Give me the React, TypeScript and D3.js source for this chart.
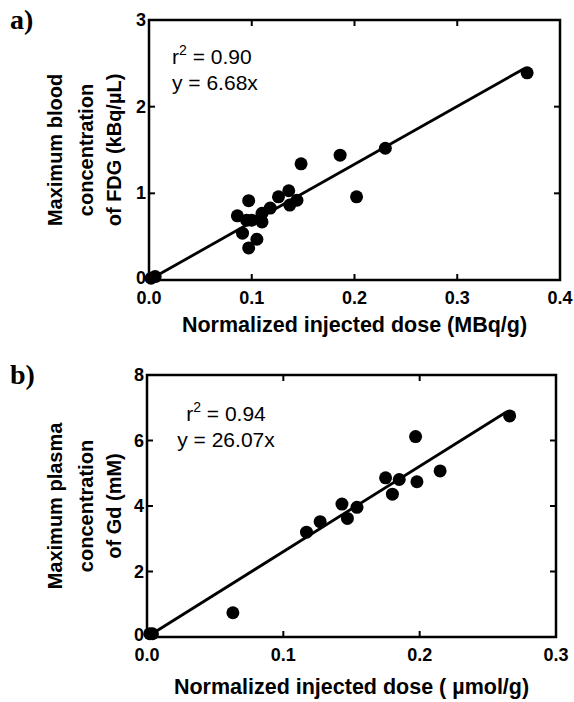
// App.tsx
import React, { useEffect, useRef } from 'react';
import * as d3 from 'd3';

// panel a: FDG
const fdgDose = [0.002, 0.006, 0.086, 0.095, 0.1, 0.097, 0.091, 0.097, 0.105, 0.11, 0.11, 0.118, 0.126, 0.136, 0.137, 0.144, 0.148, 0.186, 0.202, 0.23, 0.368];
const fdgConc = [0.02, 0.04, 0.74, 0.69, 0.69, 0.915, 0.54, 0.37, 0.47, 0.67, 0.77, 0.83, 0.96, 1.03, 0.865, 0.92, 1.34, 1.44, 0.96, 1.52, 2.39];
const fdgXTicks = [0, 0.1, 0.2, 0.3, 0.4];
const fdgYTicks = [0, 1, 2, 3];

// panel b: Gd
const gdDose = [0.002, 0.004, 0.063, 0.117, 0.127, 0.143, 0.147, 0.154, 0.175, 0.18, 0.185, 0.197, 0.198, 0.215, 0.266];
const gdConc = [0.1, 0.1, 0.74, 3.2, 3.52, 4.06, 3.62, 3.96, 4.86, 4.36, 4.81, 6.12, 4.74, 5.07, 6.75];
const gdXTicks = [0, 0.1, 0.2, 0.3];
const gdYTicks = [0, 2, 4, 6, 8];

const SANS = '"Liberation Sans", Arial, Helvetica, sans-serif';

const drawPanel = (svg, opts) => {
  const { x0, x1, y0, y1, xMax, yMax, xTicks, yTicks, xs, ys, slope, lineEnd,
    letter, letterY, yTitle, xTitle, titleY, r2, eq, annoX, annoY, annoAnchor } = opts;

  const x = d3.scaleLinear().domain([0, xMax]).range([x0, x1]);
  const y = d3.scaleLinear().domain([0, yMax]).range([y1, y0]);
  const g = svg.append('g');

  // panel letter
  g.append('text')
    .attr('x', 10)
    .attr('y', letterY)
    .style('font-family', '"Liberation Serif", "Times New Roman", serif')
    .style('font-weight', 'bold')
    .style('font-size', '28px')
    .text(letter);

  // frame
  g.append('rect')
    .attr('x', x0)
    .attr('y', y0)
    .attr('width', x1 - x0)
    .attr('height', y1 - y0)
    .attr('fill', 'none')
    .attr('stroke', '#000')
    .attr('stroke-width', 2.5);

  // inward ticks on all sides
  const tl = 6;
  xTicks.forEach((t) => {
    g.append('line').attr('x1', x(t)).attr('x2', x(t)).attr('y1', y1).attr('y2', y1 - tl).attr('stroke', '#000').attr('stroke-width', 2);
    g.append('line').attr('x1', x(t)).attr('x2', x(t)).attr('y1', y0).attr('y2', y0 + tl).attr('stroke', '#000').attr('stroke-width', 2);
  });
  yTicks.forEach((t) => {
    g.append('line').attr('x1', x0).attr('x2', x0 + tl).attr('y1', y(t)).attr('y2', y(t)).attr('stroke', '#000').attr('stroke-width', 2);
    g.append('line').attr('x1', x1).attr('x2', x1 - tl).attr('y1', y(t)).attr('y2', y(t)).attr('stroke', '#000').attr('stroke-width', 2);
  });

  // tick labels
  g.selectAll('.xt')
    .data(xTicks)
    .enter()
    .append('text')
    .attr('x', (d) => x(d))
    .attr('y', y1 + 24)
    .attr('text-anchor', 'middle')
    .style('font-family', SANS)
    .style('font-weight', 'bold')
    .style('font-size', '18px')
    .text((d) => d3.format('.1f')(d));

  g.selectAll('.yt')
    .data(yTicks)
    .enter()
    .append('text')
    .attr('x', x0 - 3)
    .attr('y', (d) => y(d) + (d === 0 ? 4 : 6))
    .attr('text-anchor', 'end')
    .style('font-family', SANS)
    .style('font-weight', 'bold')
    .style('font-size', '18px')
    .text((d) => d);

  // fit line
  const line = d3.line().x((d) => x(d[0])).y((d) => y(d[1]));
  g.append('path')
    .datum([[0, 0], [lineEnd, slope * lineEnd]])
    .attr('fill', 'none')
    .attr('stroke', '#000')
    .attr('stroke-width', 2.8)
    .attr('d', line);

  // points
  g.selectAll('.dot')
    .data(xs.map((v, i) => [v, ys[i]]))
    .enter()
    .append('circle')
    .attr('cx', (d) => x(d[0]))
    .attr('cy', (d) => y(d[1]))
    .attr('r', 6.5)
    .attr('fill', '#000');

  // annotation
  const r2Text = g.append('text')
    .attr('x', annoX)
    .attr('y', annoY)
    .attr('text-anchor', annoAnchor)
    .style('font-family', SANS)
    .style('font-size', '21px');
  r2Text.append('tspan').text('r');
  r2Text.append('tspan').attr('dy', -9).style('font-size', '14px').text('2');
  r2Text.append('tspan').attr('dy', 9).text(` = ${r2}`);

  g.append('text')
    .attr('x', annoX)
    .attr('y', annoY + 26)
    .attr('text-anchor', annoAnchor)
    .style('font-family', SANS)
    .style('font-size', '21px')
    .text(eq);

  // axis titles
  g.append('text')
    .attr('x', (x0 + x1) / 2)
    .attr('y', titleY)
    .attr('text-anchor', 'middle')
    .style('font-family', SANS)
    .style('font-weight', 'bold')
    .style('font-size', '21.5px')
    .text(xTitle);

  const cy = (y0 + y1) / 2;
  const colX = [62, 93, 121];
  yTitle.forEach((t, i) => {
    g.append('text')
      .attr('transform', `translate(${colX[i]},${cy}) rotate(-90)`)
      .attr('text-anchor', 'middle')
      .style('font-family', SANS)
      .style('font-weight', 'bold')
      .style('font-size', '20px')
      .text(t);
  });
};

const App = () => {
  const ref = useRef(null);

  useEffect(() => {
    d3.select(ref.current).selectAll('*').remove();
    const svg = d3.select(ref.current);

    svg.append('rect').attr('width', 574).attr('height', 702).attr('fill', '#fff');

    drawPanel(svg, {
      x0: 149, x1: 560, y0: 20, y1: 280,
      xMax: 0.4, yMax: 3,
      xTicks: fdgXTicks, yTicks: fdgYTicks,
      xs: fdgDose, ys: fdgConc,
      slope: 6.68, lineEnd: 0.365,
      letter: 'a)', letterY: 29,
      yTitle: ['Maximum blood', 'concentration', 'of FDG (kBq/\u00b5L)'],
      xTitle: 'Normalized injected dose (MBq/g)', titleY: 332,
      r2: '0.90', eq: 'y = 6.68x', annoX: 172, annoY: 64, annoAnchor: 'start',
    });

    drawPanel(svg, {
      x0: 147, x1: 556, y0: 375, y1: 637,
      xMax: 0.3, yMax: 8,
      xTicks: gdXTicks, yTicks: gdYTicks,
      xs: gdDose, ys: gdConc,
      slope: 26.07, lineEnd: 0.263,
      letter: 'b)', letterY: 384,
      yTitle: ['Maximum plasma', 'concentration', 'of Gd (mM)'],
      xTitle: 'Normalized injected dose ( \u00b5mol/g)', titleY: 694,
      r2: '0.94', eq: 'y = 26.07x', annoX: 226, annoY: 421, annoAnchor: 'middle',
    });
  }, []);

  return (
    <svg
      ref={ref}
      width={574}
      height={702}
      style={{ position: 'absolute', left: 0, top: 0, display: 'block' }}
    />
  );
};

export default App;
